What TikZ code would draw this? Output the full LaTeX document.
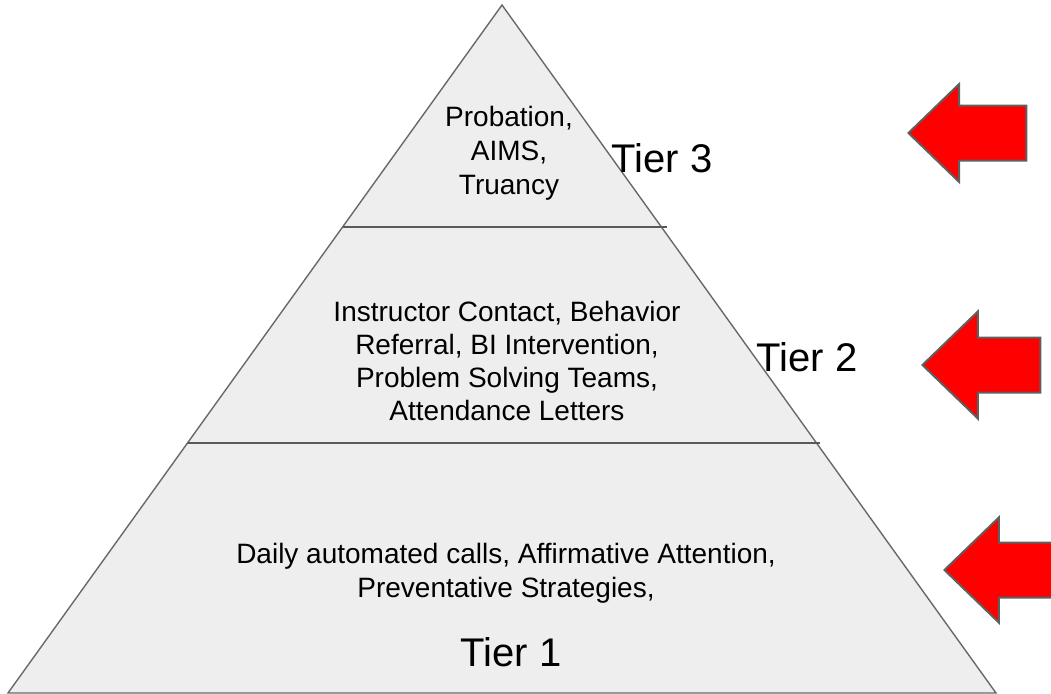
\documentclass[tikz,border=0pt]{standalone}
\usepackage{fontspec}
\setmainfont{Liberation Sans}
\usepackage{tikz}
\usetikzlibrary{positioning,shapes.arrows}

\definecolor{layerfill}{RGB}{238,238,238}
\definecolor{edgegray}{RGB}{105,105,105}
\definecolor{arrowgray}{RGB}{95,95,95}

\tikzset{x=1pt, y=-1pt,
  tiertext/.style={font=\fontsize{28}{34}\selectfont, align=center, inner sep=0pt},
  tierlabel/.style={font=\fontsize{40}{46}\selectfont, inner sep=0pt},
  redarrow/.style={single arrow, shape border rotate=180, fill=red, draw=arrowgray,
    line width=2pt, inner xsep=0pt, inner ysep=26.5pt, minimum height=118pt,
    minimum width=100pt, single arrow head extend=24pt, single arrow tip angle=88,
    anchor=tip}}

\begin{document}
\begin{tikzpicture}

             \useasboundingbox (0,0) rectangle (1051,693);

             % pyramid corners
             \coordinate (top) at (502,5);
             \coordinate (bl) at (8,693);
             \coordinate (br) at (996,693);

             \draw [fill=layerfill, draw=edgegray, line width=1.4pt] (top) -- (bl) -- (br) -- cycle;

             \coordinate (s1l) at (343,227);
             \coordinate (s1r) at (667,227);
             \coordinate (s2l) at (187,443);
             \coordinate (s2r) at (820,443);
             \draw [draw=edgegray!85!black, line width=1.4pt] (s1l) -- (s1r);
             \draw [draw=edgegray!85!black, line width=1.4pt] (s2l) -- (s2r);

             \node (T3) [tiertext] at (509,153) {Probation,\\AIMS,\\Truancy};
             \node (T2) [tiertext, font=\fontsize{28}{33}\selectfont] at (507,361) {Instructor Contact, Behavior\\Referral, BI Intervention,\\Problem Solving Teams,\\Attendance Letters};
             \node (T1) [tiertext] at (506,573) {Daily automated calls, Affirmative Attention,\\Preventative Strategies,};

             \node (L3) [tierlabel] at (662,158) {Tier 3};
             \node (L2) [tierlabel] at (807,357) {Tier 2};
             \node (L1) [tierlabel] at (511,652) {Tier 1};

             \node (A3) [redarrow, minimum width=96pt, single arrow head extend=21.5pt] at (907,133) {};
             \node (A2) [redarrow, minimum width=104pt, single arrow head extend=26pt] at (921,365) {};
             \node (A1) [redarrow, minimum width=104pt, single arrow head extend=25pt] at (943,570) {};

          \end{tikzpicture}
\end{document}
